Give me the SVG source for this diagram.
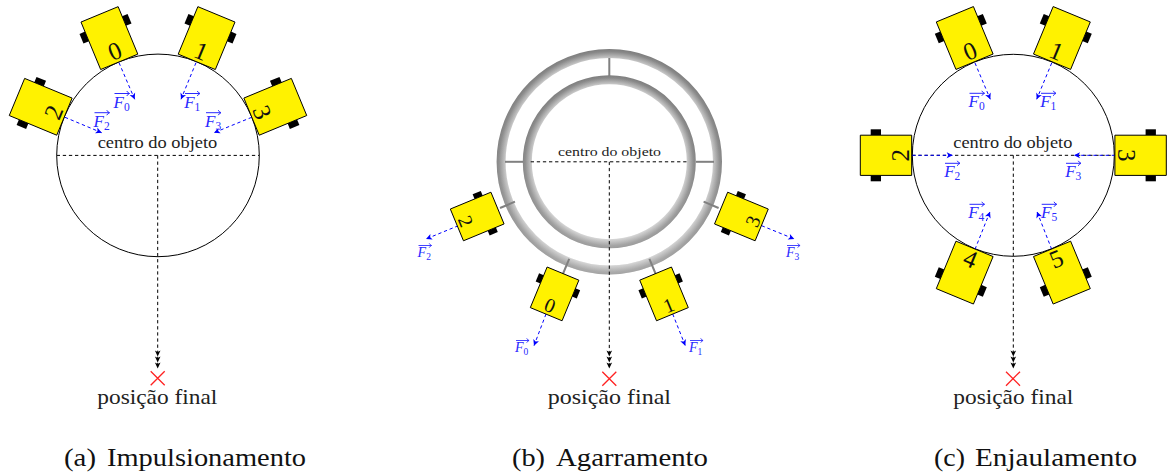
<svg xmlns="http://www.w3.org/2000/svg" width="1167" height="476" viewBox="0 0 1167 476">
<style>
text{font-family:"Liberation Serif","Times New Roman",serif;fill:#222}
.num{font-size:25px;text-anchor:middle;fill:#111}
.nums{font-size:20px;text-anchor:middle;fill:#111}
.ctr{font-size:16px}
.ctrs{font-size:13.500px}
.pos{font-size:21px}
.cap{font-size:24.500px;fill:#111}
.f{font-size:17px;font-style:italic;fill:#2a2aff}
.f tspan{font-size:11.500px;font-style:normal}
.fs{font-size:14px;font-style:italic;fill:#2a2aff}
.fs tspan{font-size:9.500px;font-style:normal}
.obj{fill:none;stroke:#000;stroke-width:1}
.dash{fill:none;stroke:#000;stroke-width:1;stroke-dasharray:3.3 2.8}
.goal{fill:none;stroke:#000;stroke-width:1;stroke-dasharray:3.3 2.8;marker-end:url(#triple)}
.force{fill:none;stroke:#00f;stroke-width:1;stroke-dasharray:3.3 2.8;marker-end:url(#stealth)}
.x{fill:none;stroke:#f22;stroke-width:1.300}
.spoke{fill:none;stroke:#808080;stroke-width:2}
.vec{fill:none;stroke:#2a2aff;stroke-width:1}
.body{fill:#fff200;stroke:#000;stroke-width:1;vector-effect:non-scaling-stroke}
</style>
<defs>
<marker id="stealth" markerUnits="userSpaceOnUse" markerWidth="8" markerHeight="8" refX="6" refY="4" orient="auto" overflow="visible"><path d="M0,1 L6,4 L0,7 L1.5,4Z" fill="#00f"/></marker>
<marker id="triple" markerUnits="userSpaceOnUse" markerWidth="20" markerHeight="8" refX="18" refY="4" orient="auto" overflow="visible"><path d="M0,1.2 L6,4 L0,6.800 L1.5,4Z M6,1.2 L12,4 L6,6.800 L7.500,4Z M12,1.2 L18,4 L12,6.800 L13.500,4Z" fill="#000"/></marker>
<g id="rob">
<rect x="-15.300" y="-26" width="10.300" height="6" fill="#000"/>
<rect x="-15.300" y="20" width="10.300" height="6" fill="#000"/>
<rect class="body" x="-25.700" y="-20.100" width="51.400" height="40.200"/>
</g>
<path id="vec" class="vec" d="M0,0 H15 M12.300,-2.500 Q13,-.8 15,0 Q13,.8 12.300,2.500"/>
<radialGradient id="ringO" gradientUnits="userSpaceOnUse" cx="609.300" cy="161.800" r="113">
<stop offset=".92" stop-color="#c4c4c4"/><stop offset=".975" stop-color="#888"/><stop offset="1" stop-color="#7c7c7c"/>
</radialGradient>
<radialGradient id="ringI" gradientUnits="userSpaceOnUse" cx="609.300" cy="161.800" r="86.500">
<stop offset=".89" stop-color="#cfcfcf"/><stop offset=".97" stop-color="#888"/><stop offset="1" stop-color="#7c7c7c"/>
</radialGradient>
<linearGradient id="lift" gradientUnits="userSpaceOnUse" x1="0" y1="49" x2="0" y2="275">
<stop offset="0" stop-color="#fff" stop-opacity="0"/><stop offset=".45" stop-color="#fff" stop-opacity=".05"/><stop offset="1" stop-color="#fff" stop-opacity=".3"/>
</linearGradient>
</defs>

<g id="panel-a-object">
<circle class="obj" cx="158" cy="155.400" r="101.300"/>
<text class="ctr" x="97.700" y="147.700" textLength="119.600" lengthAdjust="spacingAndGlyphs">centro do objeto</text>
</g>
<g id="panel-b-object">
<circle cx="609.300" cy="161.800" r="108.200" fill="none" stroke="url(#ringO)" stroke-width="9"/>
<circle cx="609.300" cy="161.800" r="108.200" fill="none" stroke="url(#lift)" stroke-width="9"/>
<circle cx="609.300" cy="161.800" r="82" fill="none" stroke="url(#ringI)" stroke-width="9"/>
<circle cx="609.300" cy="161.800" r="82" fill="none" stroke="url(#lift)" stroke-width="9"/>
<text class="ctrs" x="558" y="155.700" textLength="103" lengthAdjust="spacingAndGlyphs">centro do objeto</text>
</g>
<g id="panel-c-object">
<circle class="obj" cx="1013.300" cy="155.300" r="101"/>
<text class="ctr" x="953.300" y="147.700" textLength="119" lengthAdjust="spacingAndGlyphs">centro do objeto</text>
</g>

<g id="connectors">
<path class="dash" d="M56.700,155.400 H259.300"/>
<path class="goal" d="M157.700,155.400 V368.500"/>
<path class="force" d="M119,62.700 L134.700,99.300"/>
<path class="force" d="M196,62.700 L181,99.300"/>
<path class="force" d="M65,117.300 L101.700,132.700"/>
<path class="force" d="M251.700,117.300 L214,132.700"/>

<path class="dash" d="M530.700,161.800 H688.300"/>
<path class="goal" d="M609.300,161.800 V368.500"/>
<path class="spoke" d="M609.300,58 V76"/>
<path class="spoke" d="M505,161.800 H523"/>
<path class="spoke" d="M696,161.800 H714"/>
<path class="spoke" d="M515,201.700 L500,208"/>
<path class="spoke" d="M703.600,201.700 L718.600,208"/>
<path class="spoke" d="M569.200,258.800 L562.900,274"/>
<path class="spoke" d="M649.400,258.800 L655.700,274"/>
<path class="force" d="M546,314 L534,345.700"/>
<path class="force" d="M672.700,314 L685.300,345.700"/>
<path class="force" d="M458.300,225.700 L426,239"/>
<path class="force" d="M761.700,225.700 L794.300,239"/>

<path class="dash" d="M912.300,155.300 H1114.300"/>
<path class="goal" d="M1013.300,155.300 V368.500"/>
<path class="force" d="M912.300,155.300 H952.700"/>
<path class="force" d="M1115,155.300 H1074"/>
<path class="force" d="M975,63 L990.300,99.300"/>
<path class="force" d="M1051.700,63 L1036.700,99.300"/>
<path class="force" d="M975,249.300 L990,211.700"/>
<path class="force" d="M1051.700,249.300 L1037,211.700"/>
</g>

<g id="a-robot-0" transform="translate(109.400,38.100) rotate(67.500)"><use href="#rob"/><text class="num" transform="translate(14.500,0) rotate(-90)" y="8">0</text></g>
<g id="a-robot-1" transform="translate(206.600,38.100) rotate(112.500)"><use href="#rob"/><text class="num" transform="translate(14.500,0) rotate(-90)" y="8">1</text></g>
<g id="a-robot-2" transform="translate(40.700,106.800) rotate(22.500)"><use href="#rob"/><text class="num" transform="translate(14.500,0) rotate(-90)" y="8">2</text></g>
<g id="a-robot-3" transform="translate(275.300,106.800) rotate(157.500)"><use href="#rob"/><text class="num" transform="translate(14.500,0) rotate(-90)" y="8">3</text></g>

<g id="b-robot-0" transform="translate(554.600,293.900) rotate(112.500)"><use href="#rob" transform="scale(.855)"/><text class="nums" transform="translate(12.400,0) rotate(-90)" y="6.800">0</text></g>
<g id="b-robot-1" transform="translate(664,293.900) rotate(67.500)"><use href="#rob" transform="scale(.855)"/><text class="nums" transform="translate(12.400,0) rotate(-90)" y="6.800">1</text></g>
<g id="b-robot-2" transform="translate(477.200,216.500) rotate(157.500)"><use href="#rob" transform="scale(.855)"/><text class="nums" transform="translate(12.400,0) rotate(-90)" y="6.800">2</text></g>
<g id="b-robot-3" transform="translate(741.400,216.500) rotate(22.500)"><use href="#rob" transform="scale(.855)"/><text class="nums" transform="translate(12.400,0) rotate(-90)" y="6.800">3</text></g>

<g id="c-robot-0" transform="translate(964.700,38) rotate(67.500)"><use href="#rob"/><text class="num" transform="translate(14.500,0) rotate(-90)" y="8">0</text></g>
<g id="c-robot-1" transform="translate(1061.900,38) rotate(112.500)"><use href="#rob"/><text class="num" transform="translate(14.500,0) rotate(-90)" y="8">1</text></g>
<g id="c-robot-2" transform="translate(886,155.300)"><use href="#rob"/><text class="num" transform="translate(14.500,0) rotate(-90)" y="8">2</text></g>
<g id="c-robot-3" transform="translate(1140.600,155.300) rotate(180)"><use href="#rob"/><text class="num" transform="translate(14.500,0) rotate(-90)" y="8">3</text></g>
<g id="c-robot-4" transform="translate(964.700,272.600) rotate(-67.500)"><use href="#rob"/><text class="num" transform="translate(14.500,0) rotate(90)" y="8">4</text></g>
<g id="c-robot-5" transform="translate(1061.900,272.600) rotate(-112.500)"><use href="#rob"/><text class="num" transform="translate(14.500,0) rotate(90)" y="8">5</text></g>

<g id="force-labels">
<text class="f" x="113.500" y="107.500">F<tspan dy="3">0</tspan></text><use href="#vec" x="114.500" y="93.500"/>
<text class="f" x="184.200" y="107.500">F<tspan dy="3">1</tspan></text><use href="#vec" x="185" y="93.500"/>
<text class="f" x="93.500" y="126.700">F<tspan dy="3">2</tspan></text><use href="#vec" x="94.500" y="112.700"/>
<text class="f" x="205" y="126.700">F<tspan dy="3">3</tspan></text><use href="#vec" x="206" y="112.700"/>

<text class="fs" x="515" y="352.300">F<tspan dy="2.500">0</tspan></text><use href="#vec" transform="translate(516,340.500) scale(.87)"/>
<text class="fs" x="689" y="352.300">F<tspan dy="2.500">1</tspan></text><use href="#vec" transform="translate(690,340.500) scale(.87)"/>
<text class="fs" x="417.600" y="257.300">F<tspan dy="2.500">2</tspan></text><use href="#vec" transform="translate(418.500,245.500) scale(.87)"/>
<text class="fs" x="786" y="257.300">F<tspan dy="2.500">3</tspan></text><use href="#vec" transform="translate(787,245.500) scale(.87)"/>

<text class="f" x="968.500" y="107.300">F<tspan dy="3">0</tspan></text><use href="#vec" x="969.500" y="93.300"/>
<text class="f" x="1040.200" y="107.300">F<tspan dy="3">1</tspan></text><use href="#vec" x="1041" y="93.300"/>
<text class="f" x="944.200" y="177.300">F<tspan dy="3">2</tspan></text><use href="#vec" x="945" y="163.300"/>
<text class="f" x="1065.200" y="177.300">F<tspan dy="3">3</tspan></text><use href="#vec" x="1066" y="163.300"/>
<text class="f" x="968.200" y="218.300">F<tspan dy="3">4</tspan></text><use href="#vec" x="969.500" y="204.300"/>
<text class="f" x="1041" y="218.300">F<tspan dy="3">5</tspan></text><use href="#vec" x="1041.700" y="204.300"/>
</g>

<g id="goal-a">
<path class="x" d="M150.700,371.300 L164.700,385.300 M164.700,371.300 L150.700,385.300"/>
<text class="pos" x="97.300" y="404" textLength="120" lengthAdjust="spacingAndGlyphs">posição final</text>
</g>
<g id="goal-b">
<path class="x" d="M602.300,371.700 L616.300,385.700 M616.300,371.700 L602.300,385.700"/>
<text class="pos" x="547.700" y="404" textLength="123.300" lengthAdjust="spacingAndGlyphs">posição final</text>
</g>
<g id="goal-c">
<path class="x" d="M1006,371.700 L1020,385.700 M1020,371.700 L1006,385.700"/>
<text class="pos" x="953.300" y="404" textLength="120" lengthAdjust="spacingAndGlyphs">posição final</text>
</g>

<text id="caption-a" class="cap" y="466"><tspan x="64" textLength="32" lengthAdjust="spacingAndGlyphs">(a)</tspan><tspan x="107" textLength="199" lengthAdjust="spacingAndGlyphs">Impulsionamento</tspan></text>
<text id="caption-b" class="cap" y="466"><tspan x="512" textLength="33" lengthAdjust="spacingAndGlyphs">(b)</tspan><tspan x="556" textLength="152" lengthAdjust="spacingAndGlyphs">Agarramento</tspan></text>
<text id="caption-c" class="cap" y="466"><tspan x="934" textLength="31" lengthAdjust="spacingAndGlyphs">(c)</tspan><tspan x="975" textLength="162" lengthAdjust="spacingAndGlyphs">Enjaulamento</tspan></text>
</svg>
